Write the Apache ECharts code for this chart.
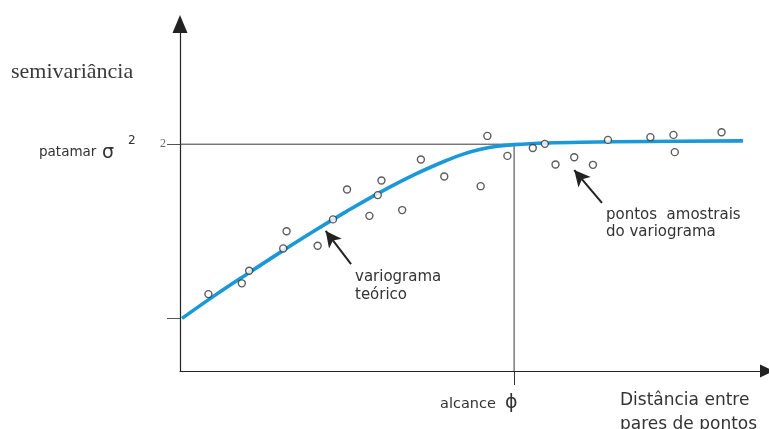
<!DOCTYPE html>
<html>
<head>
<meta charset="utf-8">
<script src="https://cdn.jsdelivr.net/npm/echarts@6/dist/echarts.min.js"></script>
<style>html,body{margin:0;padding:0;background:#fff}#c{width:769px;height:429px}</style>
</head>
<body>
<div id="c"></div>
<script>
// Data (x = distance, alcance = 10; y = semivariance, patamar = 2)
var sill = 2;
var nugget = 0.465;
var alcance = 10;
var curveX = [0.06, 1, 2, 3, 4, 5, 6, 7, 8, 8.5, 9, 9.5, 10, 11, 12, 14, 16.85];
var curveY = [0.464, 0.658, 0.854, 1.046, 1.232, 1.410, 1.578, 1.730, 1.860, 1.915, 1.955, 1.982, 1.996, 2.010, 2.017, 2.024, 2.029];
var ptsX = [0.85, 1.85, 2.07, 3.09, 3.19, 4.12, 4.58, 5.00, 5.67, 5.92, 6.03, 6.65, 7.21, 7.91, 9.00, 9.20, 9.80, 10.56, 10.92, 11.24, 11.80, 12.36, 12.81, 14.08, 14.77, 14.81, 16.21];
var ptsY = [0.678, 0.773, 0.884, 1.081, 1.233, 1.104, 1.337, 1.601, 1.368, 1.551, 1.680, 1.419, 1.865, 1.715, 1.630, 2.073, 1.897, 1.967, 2.003, 1.821, 1.885, 1.818, 2.038, 2.062, 2.082, 1.930, 2.106];
// annotation arrows: [tailX, tailY, tipX, tipY]
var arrowTeorico = [5.12, 0.943, 4.36, 1.235];
var arrowPontos = [12.63, 1.483, 11.80, 1.772];

var curve = curveX.map(function (x, i) { return [x, curveY[i]]; });
var pts = ptsX.map(function (x, i) { return [x, ptsY[i]]; });

var chart = echarts.init(document.getElementById('c'), null, {renderer: 'canvas'});
var txt = '#333';
chart.setOption({
  animation: false,
  backgroundColor: '#fff',
  grid: {left: 180, right: 2, top: 24, bottom: 58},
  xAxis: {
    type: 'value', min: 0, max: 17.57,
    splitLine: {show: false},
    axisLine: {lineStyle: {color: '#222', width: 1.2}, symbol: ['none', 'triangle'], symbolSize: [13, 14]},
    axisTick: {show: true, customValues: [alcance], length: 14, lineStyle: {color: '#333', width: 1}},
    axisLabel: {show: false}
  },
  yAxis: {
    type: 'value', min: 0, max: 3.06,
    splitLine: {show: false},
    axisLine: {lineStyle: {color: '#222', width: 1.2}, symbol: ['none', 'triangle'], symbolSize: [15, 18]},
    axisTick: {show: true, customValues: [nugget, sill], length: 13, lineStyle: {color: '#555', width: 1}},
    axisLabel: {show: true, customValues: [sill], margin: 14, color: '#666', fontFamily: 'Liberation Serif', fontSize: 12, padding: [0, 0, 7, 0]}
  },
  series: [
    {
      type: 'line', data: [[0, sill], [alcance, sill], [alcance, 0]],
      showSymbol: false, silent: true,
      lineStyle: {color: '#3a3a3a', width: 1}, z: 1
    },
    {
      type: 'line', data: curve, smooth: 0.4, showSymbol: false,
      lineStyle: {color: '#1a98d8', width: 3.6}, z: 2,
      markLine: {
        silent: true, symbol: ['none', 'arrow'], symbolSize: [12, 16],
        lineStyle: {color: '#222', width: 2, type: 'solid'}, label: {show: false},
        data: [
          [{coord: [arrowTeorico[0], arrowTeorico[1]]}, {coord: [arrowTeorico[2], arrowTeorico[3]]}],
          [{coord: [arrowPontos[0], arrowPontos[1]]}, {coord: [arrowPontos[2], arrowPontos[3]]}]
        ]
      }
    },
    {
      type: 'scatter', data: pts, symbol: 'circle', symbolSize: 7,
      itemStyle: {color: '#fff', borderColor: '#333', borderWidth: 1.4}, z: 3
    }
  ],
  graphic: [
    {type: 'text', x: 11, y: 72, style: {text: 'semivariância', font: '22px "Liberation Serif"', fill: '#3a3a3a', verticalAlign: 'middle'}},
    {type: 'text', x: 39, y: 152, style: {text: 'patamar', font: '13.5px "DejaVu Sans"', fill: txt, verticalAlign: 'middle'}},
    {type: 'text', x: 102, y: 153, style: {text: 'σ', font: '19px "DejaVu Sans"', fill: txt, verticalAlign: 'middle'}},
    {type: 'text', x: 128, y: 141, style: {text: '2', font: '12px "DejaVu Sans"', fill: txt, verticalAlign: 'middle'}},
    {type: 'text', x: 355, y: 277, style: {text: 'variograma', font: '15px "DejaVu Sans"', fill: txt, verticalAlign: 'middle'}},
    {type: 'text', x: 355, y: 295, style: {text: 'teórico', font: '15px "DejaVu Sans"', fill: txt, verticalAlign: 'middle'}},
    {type: 'text', x: 606, y: 215, style: {text: 'pontos  amostrais', font: '15px "DejaVu Sans"', fill: txt, verticalAlign: 'middle'}},
    {type: 'text', x: 606, y: 232, style: {text: 'do variograma', font: '15px "DejaVu Sans"', fill: txt, verticalAlign: 'middle'}},
    {type: 'text', x: 440, y: 404, style: {text: 'alcance', font: '14.5px "DejaVu Sans"', fill: txt, verticalAlign: 'middle'}},
    {type: 'text', x: 505, y: 403, style: {text: 'ϕ', font: '19px "DejaVu Sans"', fill: txt, verticalAlign: 'middle'}},
    {type: 'text', x: 620, y: 401, style: {text: 'Distância entre', font: '17px "DejaVu Sans"', fill: txt, verticalAlign: 'middle'}},
    {type: 'text', x: 620, y: 425, style: {text: 'pares de pontos', font: '17px "DejaVu Sans"', fill: txt, verticalAlign: 'middle'}}
  ]
});
</script>
</body>
</html>
